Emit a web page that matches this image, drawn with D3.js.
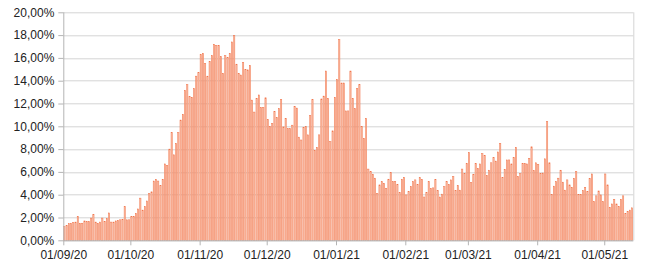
<!DOCTYPE html>
<html>
<head>
<meta charset="utf-8">
<script src="https://cdn.jsdelivr.net/npm/d3@7"></script>
<style>
  body { margin: 0; background: #fff; }
  .axis text { font-family: "Liberation Sans", Arial, sans-serif; font-size: 12px; fill: #222; }
  .axis path, .axis line { stroke: #b4b4b4; }
</style>
</head>
<body>
<div class="chart"></div>
<script>
// daily values (%), one array per month
var sep20 = [1.20, 1.30, 1.45, 1.50, 1.55, 1.60, 2.10, 1.50, 1.50, 1.70, 1.65, 1.65, 1.95, 2.25, 1.60,
  1.50, 1.60, 1.95, 1.65, 1.90, 2.40, 1.60, 1.60, 1.70, 1.75, 1.80, 1.85, 2.95, 1.80, 1.80];
var oct20 = [2.07, 2.10, 2.35, 2.75, 3.70, 2.65, 2.95, 3.45, 4.10, 4.25, 5.20, 5.35, 5.20, 4.80, 5.35,
  6.70, 6.55, 8.00, 9.45, 7.50, 8.50, 9.45, 10.55, 11.05, 13.15, 13.65, 12.60, 12.55, 13.30, 14.40, 14.70];
var nov20 = [16.30, 16.40, 15.50, 14.40, 15.70, 16.20, 17.20, 17.10, 17.10, 16.10, 14.65, 16.20, 16.05, 16.40, 17.40,
  17.95, 15.45, 14.65, 14.50, 15.60, 15.00, 14.95, 15.35, 12.30, 11.25, 12.45, 12.75, 11.65, 11.65, 12.50];
var dec20 = [10.60, 10.00, 10.25, 11.30, 10.75, 11.55, 12.35, 9.95, 10.70, 9.80, 9.80, 10.10, 11.75, 11.60, 9.05,
  8.80, 9.90, 10.00, 9.25, 10.95, 12.35, 7.90, 8.15, 9.25, 12.40, 12.65, 14.85, 12.45, 8.65, 9.60, 12.55];
var jan21 = [14.10, 17.60, 13.80, 13.80, 11.35, 11.35, 14.85, 12.45, 11.55, 13.30, 13.65, 10.00, 8.95, 10.70, 6.25,
  6.05, 5.80, 5.45, 4.10, 4.86, 5.15, 5.00, 4.57, 5.36, 5.94, 5.15, 5.15, 4.92, 4.19, 5.36, 5.53];
var feb21 = [3.98, 4.27, 4.71, 5.15, 5.30, 4.92, 5.50, 5.35, 3.80, 4.20, 5.15, 4.55, 4.60, 5.35, 4.35,
  3.80, 4.05, 4.70, 5.15, 4.90, 5.30, 5.60, 4.35, 4.80, 4.40, 6.25, 5.85, 6.75];
var mar21 = [7.70, 5.05, 5.80, 6.75, 6.30, 6.70, 7.60, 7.45, 5.70, 6.15, 6.80, 7.25, 6.95, 7.75, 8.50,
  5.50, 6.20, 7.05, 7.05, 6.70, 7.25, 8.15, 5.60, 5.85, 6.75, 6.75, 6.70, 7.20, 8.20, 6.10, 6.80];
var apr21 = [6.65, 5.85, 5.90, 7.15, 10.40, 6.80, 4.00, 4.75, 5.15, 5.45, 6.15, 5.10, 4.40, 5.30, 4.86,
  4.65, 5.44, 6.03, 4.04, 4.00, 4.36, 4.65, 4.27, 5.44, 5.82, 3.40, 3.90, 4.33, 3.98, 3.40];
var may21 = [5.82, 4.86, 2.90, 3.19, 3.60, 3.19, 2.96, 3.60, 3.90, 2.37, 2.52, 2.65, 2.85];

var yTicks = [0, 2, 4, 6, 8, 10, 12, 14, 16, 18, 20];

var values = [].concat(sep20, oct20, nov20, dec20, jan21, feb21, mar21, apr21, may21);
var start = new Date(2020, 8, 1);
var data = values.map(function (v, i) {
  return { date: d3.timeDay.offset(start, i), value: v };
});

var margin = ({top: 12.3, right: 16.7, bottom: 33.7, left: 63.3});
var width = 650 - margin.left - margin.right,
    height = 274 - margin.top - margin.bottom;

var svg = d3.select(".chart").append("svg")
    .attr("width", 650)
    .attr("height", 274)
    .append("g")
    .attr("transform", "translate(" + margin.left + "," + margin.top + ")");

const xScale = d3.scaleTime()
    .domain([start, d3.timeDay.offset(start, data.length)])
    .range([0, width]);

const yScale = d3.scaleLinear()
    .domain([0, 20])
    .range([height, 0]);

const step = xScale(d3.timeDay.offset(start, 1)) - xScale(start);

// grid
svg.append("g")
    .selectAll("line")
    .data(yTicks)
    .join("line")
    .attr("x1", 0)
    .attr("x2", width)
    .attr("y1", d => Math.round(yScale(d)) + 0.5)
    .attr("y2", d => Math.round(yScale(d)) + 0.5)
    .attr("stroke", "#d4d4d4");

svg.append("line")
    .attr("x1", width + 0.5).attr("x2", width + 0.5)
    .attr("y1", yScale(20)).attr("y2", height)
    .attr("stroke", "#d4d4d4");

// bars
svg.append("g")
    .selectAll("rect")
    .data(data)
    .join("rect")
    .attr("x", d => xScale(d.date) + step * 0.2)
    .attr("width", step * 0.55)
    .attr("y", d => yScale(d.value))
    .attr("height", d => height - yScale(d.value))
    .attr("fill", "#fbbfa8")
    .attr("stroke", "#ef6a3e")
    .attr("stroke-width", 0.45);

const yAxis = d3.axisLeft(yScale)
    .tickValues(yTicks)
    .tickSize(5)
    .tickPadding(4)
    .tickFormat(d => d3.format(".2f")(d).replace(".", ",") + "%");

svg.append("g")
    .attr("class", "axis y-axis")
    .call(yAxis)
    .call(g => g.select(".domain").attr("d", "M0.5," + yScale(20) + "V" + height));

const xAxis = d3.axisBottom(xScale)
    .tickValues(d3.timeMonth.range(start, d3.timeDay.offset(start, data.length)))
    .tickSize(5)
    .tickPadding(5)
    .tickFormat(d3.timeFormat("%d/%m/%y"));

svg.append("g")
    .attr("class", "axis x-axis")
    .attr("transform", `translate(0, ${height})`)
    .call(xAxis)
    .call(g => g.select(".domain").attr("d", "M0," + 0.5 + "H" + width));
</script>
</body>
</html>
